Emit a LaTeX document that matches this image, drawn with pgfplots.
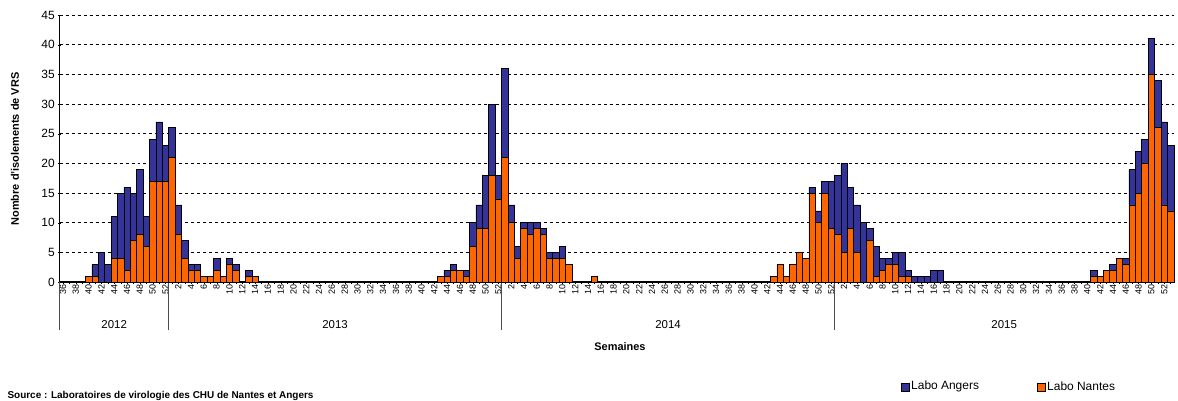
\documentclass[border=0pt]{standalone}
\usepackage{pgfplots}
\pgfplotsset{compat=1.18}
\usepackage{pgfplotstable}
\usepackage{fontspec}
\setmainfont{Liberation Sans}
\definecolor{angers}{HTML}{333399}
\definecolor{nantes}{HTML}{FF6600}
\pgfplotstableread{
x N A
4 1 0
5 1 2
6 0 5
7 0 3
8 4 7
9 4 11
10 2 14
11 7 8
12 8 11
13 6 5
14 17 7
15 17 10
16 17 6
17 21 5
18 8 5
19 4 3
20 2 1
21 2 1
22 1 0
23 1 0
24 2 2
25 1 0
26 3 1
27 2 1
29 1 1
30 1 0
59 1 0
60 1 1
61 2 1
62 2 0
63 1 1
64 6 4
65 9 4
66 9 9
67 18 12
68 14 4
69 21 15
70 10 3
71 4 2
72 9 1
73 8 2
74 9 1
75 8 1
76 4 1
77 4 1
78 4 2
79 3 0
83 1 0
111 1 0
112 3 0
113 1 0
114 3 0
115 5 0
116 4 0
117 15 1
118 10 2
119 15 2
120 9 8
121 8 10
122 5 15
123 9 7
124 5 8
125 0 10
126 7 2
127 1 5
128 2 2
129 3 1
130 3 2
131 1 4
132 1 1
133 0 1
134 0 1
135 0 1
136 0 2
137 0 2
161 1 1
162 1 0
163 2 0
164 2 1
165 4 0
166 3 1
167 13 6
168 15 7
169 20 4
170 35 6
171 26 8
172 13 14
173 12 11
}\data
\begin{document}
\begin{tikzpicture}
\path[use as bounding box] (-63bp,-119bp) rectangle (1115bp,282bp);
\begin{axis}[
  at={(0,0)}, anchor=origin,
  scale only axis, width=1114bp, height=267bp,
  xmin=-0.5, xmax=173.5, ymin=0, ymax=45,
  ybar stacked, bar width=6.4bp,
  axis lines=left, axis line style={-, line width=1.2pt},
  ytick={0,5,...,45},
  ymajorgrids, grid style={dashed, black, line width=0.5pt},
  xtick={0,2,...,172},
  minor xtick={1,3,...,173},
  xticklabel={\pgfmathtruncatemacro{\t}{\tick}\ifnum\t<17 \pgfmathtruncatemacro{\w}{36+\t}\else\ifnum\t<69 \pgfmathtruncatemacro{\w}{\t-16}\else\ifnum\t<121 \pgfmathtruncatemacro{\w}{\t-68}\else\pgfmathtruncatemacro{\w}{\t-120}\fi\fi\fi\w},
  x tick label style={rotate=90, anchor=east, font=\fontsize{9}{9}\selectfont, inner sep=1pt},
  y tick label style={font=\fontsize{12}{12}\selectfont},
  /pgf/number format/assume math mode=true,
  tick style={black},
  major tick length=3bp, minor tick length=3bp,
  clip=false,
]
\addplot[fill=nantes, draw=black, line width=0.6pt] table[x=x,y=N]{\data};
\addplot[fill=angers, draw=black, line width=0.6pt] table[x=x,y=A]{\data};
\pgfplotsinvokeforeach{-0.5,16.5,68.5,120.5}{
  \draw[black!70, line width=0.8pt] (axis cs:#1,0) -- ([yshift=-48bp]axis cs:#1,0);
}
\node[font=\fontsize{11.5}{11.5}\selectfont] at ([yshift=-43bp]axis cs:8,0) {2012};
\node[font=\fontsize{11.5}{11.5}\selectfont] at ([yshift=-43bp]axis cs:42.5,0) {2013};
\node[font=\fontsize{11.5}{11.5}\selectfont] at ([yshift=-43bp]axis cs:94.5,0) {2014};
\node[font=\fontsize{11.5}{11.5}\selectfont] at ([yshift=-43bp]axis cs:147,0) {2015};
\end{axis}
\node[font=\bfseries\fontsize{11}{11}\selectfont, rotate=90] at (-48bp,133bp) {Nombre d'isolements de VRS};
\node[font=\bfseries\fontsize{11}{11}\selectfont] at (557bp,-65bp) {Semaines};
\node[font=\bfseries\fontsize{10}{10}\selectfont, anchor=west] at (-59bp,-114bp) {Source : Laboratoires de virologie des CHU de Nantes et Angers};
\draw[fill=angers, draw=black] (838bp,-109bp) rectangle (846bp,-101bp);
\node[font=\fontsize{12}{12}\selectfont, anchor=west, inner sep=1pt] at (847bp,-104.5bp) {Labo Angers};
\draw[fill=nantes, draw=black] (974bp,-109bp) rectangle (982bp,-101bp);
\node[font=\fontsize{12}{12}\selectfont, anchor=west, inner sep=1pt] at (983bp,-104.5bp) {Labo Nantes};
\end{tikzpicture}
\end{document}
